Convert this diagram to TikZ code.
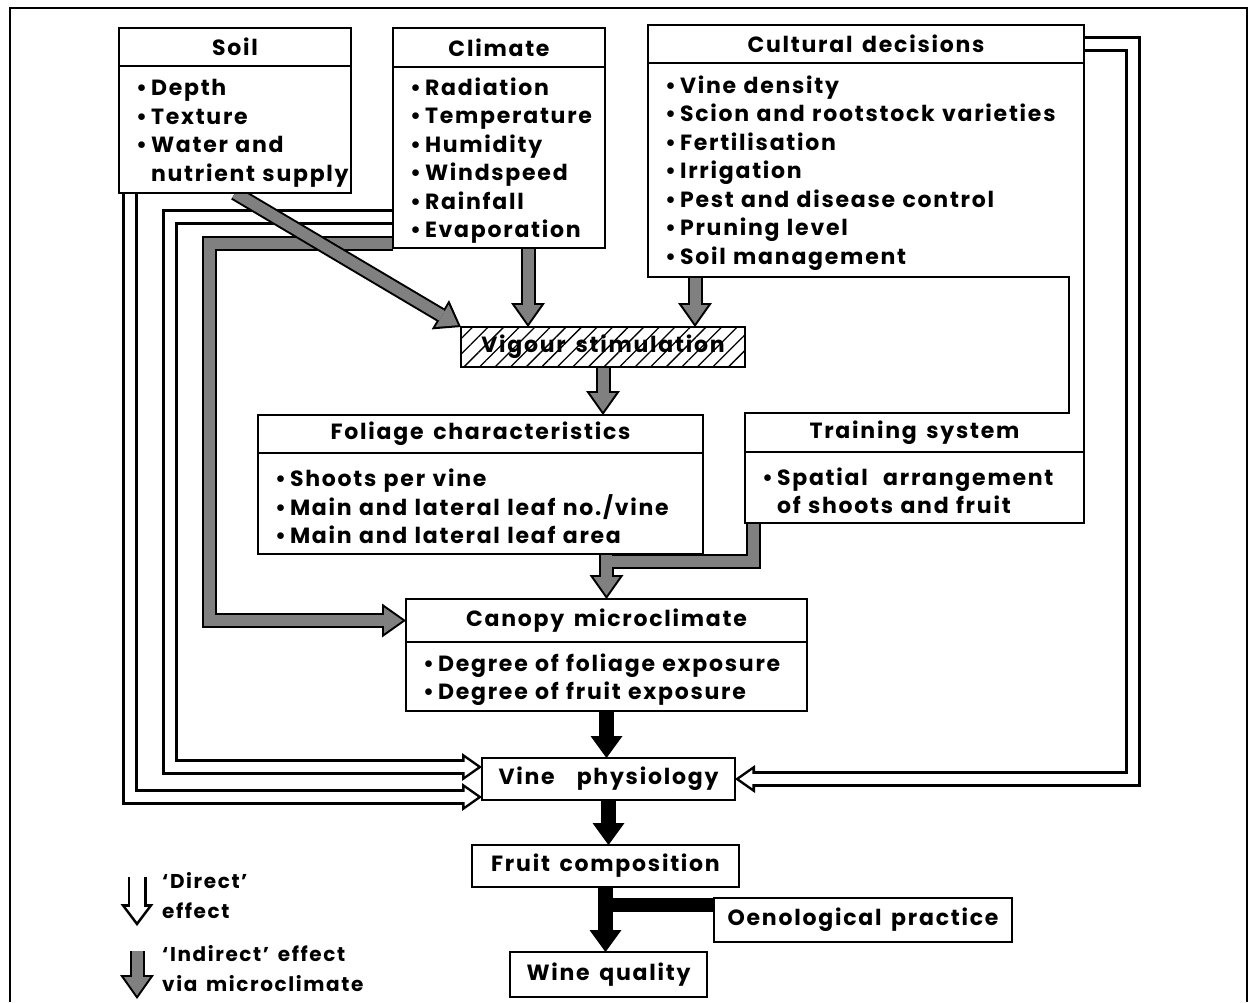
\documentclass[tikz,border=0pt]{standalone}
\usepackage{fontspec}
\setmainfont{Poppins}[LetterSpace=8,WordSpace=1.5]
\usetikzlibrary{arrows.meta,backgrounds,patterns.meta}

\newcommand{\boxfont}{\fontsize{22}{28.5}\selectfont\bfseries}
\newcommand{\keyfont}{\fontsize{20}{30}\selectfont\bfseries}
\newcommand{\dotitem}{\hspace*{13pt}\textbullet\hspace{4pt}}
\newcommand{\dotgap}{\hspace*{13pt}\phantom{\textbullet}\hspace{4pt}}

\begin{document}
\begin{tikzpicture}[x=1pt, y=-1pt,
  hd/.style={draw, line width=2.5pt, fill=white, anchor=north west, inner sep=0pt, outer sep=0pt, font=\boxfont},
  bd/.style={draw, line width=2.5pt, fill=white, anchor=north west, inner xsep=4pt, inner ysep=0pt, outer sep=0pt, align=left, font=\boxfont,
    execute at begin node={\hyphenpenalty=10000\rule{0pt}{24pt}}},
  vg/.style={draw, line width=2.5pt, pattern={Lines[angle=45,distance=11pt,line width=1.3pt]}, anchor=north west, inner sep=0pt, outer sep=0pt, font=\boxfont},
  key/.style={anchor=north west, align=left, inner sep=0pt, font=\keyfont},
  indo/.style={draw=black, line width=15pt, -{Triangle[length=24pt,width=34pt,line width=0pt]}},
  indi/.style={draw=black!50, line width=11pt, shorten >=3.5pt, -{Triangle[length=18.5pt,width=26pt,line width=0pt]}},
  ind/.style={preaction={indo, shorten >=0pt}, indi},
  diro/.style={draw=black, line width=15.5pt, -{Triangle[length=20pt,width=28pt,line width=0pt]}},
  diri/.style={draw=white, line width=10.5pt, shorten >=4.4pt, -{Triangle[length=13pt,width=18.4pt,line width=0pt]}},
  dir/.style={preaction={diro, shorten >=0pt}, diri},
  sol/.style={draw=black, line width=15pt, -{Triangle[length=22pt,width=32pt,line width=0pt]}}
]
\useasboundingbox (0,0) rectangle (1250,1002);
\draw[line width=1.5pt] (10,1002) -- (10,8) -- (1247,8) -- (1247,1002);

% factors
\node[hd, minimum width=232pt, minimum height=38pt] (soilh) at (119,28) {Soil};
\node[bd, text width=224pt, minimum height=127pt] (soilb) at (soilh.south west)
  {\dotitem Depth\\ \dotitem Texture\\ \dotitem Water and\\ \dotgap nutrient supply};
\node[hd, minimum width=212pt, minimum height=39pt] (climh) at (393,28) {Climate};
\node[bd, text width=204pt, minimum height=181pt] (climb) at (climh.south west)
  {\dotitem Radiation\\ \dotitem Temperature\\ \dotitem Humidity\\ \dotitem Windspeed\\ \dotitem Rainfall\\ \dotitem Evaporation};
\node[hd, draw=none, minimum width=436pt, minimum height=38pt] (culth) at (648,25) {Cultural decisions};
\node[bd, draw=none, text width=428pt, minimum height=214pt] (cultb) at (culth.south west)
  {\dotitem Vine density\\ \dotitem Scion and rootstock varieties\\ \dotitem Fertilisation\\ \dotitem Irrigation\\ \dotitem Pest and disease control\\ \dotitem Pruning level\\ \dotitem Soil management};

% canopy
\node[vg, minimum width=284pt, minimum height=40pt] (vig) at (461,327) {Vigour stimulation};
\node[hd, minimum width=445pt, minimum height=38pt] (folh) at (258,415) {Foliage characteristics};
\node[bd, text width=437pt, minimum height=101pt] (folb) at (folh.south west)
  {\dotitem Shoots per vine\\ \dotitem Main and lateral leaf no./vine\\ \dotitem Main and lateral leaf area};
\node[hd, draw=none, minimum width=339pt, minimum height=39pt] (trainh) at (745,413) {Training system};
\node[bd, draw=none, text width=331pt, minimum height=71pt] (trainb) at (trainh.south west)
  {\dotitem Spatial\hspace{8pt} arrangement\\ \dotgap of shoots and fruit};
\node[hd, minimum width=401pt, minimum height=43pt] (canh) at (406,599) {Canopy microclimate};
\node[bd, text width=393pt, minimum height=69pt] (canb) at (canh.south west)
  {\dotitem Degree of foliage exposure\\ \dotitem Degree of fruit exposure};

% outcome
\node[hd, minimum width=253pt, minimum height=42pt] (vine) at (482,758) {Vine\quad physiology};
\node[hd, minimum width=267pt, minimum height=42pt] (fruit) at (472,845) {Fruit composition};
\node[hd, minimum width=298pt, minimum height=44pt] (oeno) at (714,898) {Oenological practice};
\node[hd, minimum width=197pt, minimum height=45pt] (wine) at (510,952) {Wine quality};

% cultural decisions and training system share one outline
\coordinate (tc) at (1069,0);
\draw[line width=2.5pt] (culth.north west) -- (culth.north east) -- (trainb.south east)
  -- (trainb.south west) -- (trainh.north west) -- (tc |- trainh.north)
  -- (tc |- cultb.south) -- (cultb.south west) -- cycle;
\draw[line width=2.5pt] (culth.south west) -- (culth.south east);
\draw[line width=2.5pt] (trainh.south west) -- (trainh.south east);

% key
\node[key] (dkey) at (162,872) {`Direct'\\effect};
\node[key] (ikey) at (162,945) {`Indirect' effect\\via microclimate};
\coordinate (dk1) at (137,877);
\coordinate (dk2) at (137,926);
\coordinate (ik1) at (137,951);
\coordinate (ik2) at (137,999);

% lanes
\coordinate (sl) at (130,0);
\coordinate (cl) at (170,0);
\coordinate (il) at (209,0);
\coordinate (rl) at (1133,0);
\coordinate (ca) at (528,0);
\coordinate (ka) at (695,0);
\coordinate (ta) at (753,0);
\coordinate (sd) at (0,797);
\coordinate (cd) at (0,767);
\coordinate (ch) at (0,217);
\coordinate (ty) at (0,561);
\coordinate (lt) at ([yshift=5pt]climb.south west);

\begin{scope}[on background layer]
  % direct effects
  \draw[dir] (soilb.south -| sl) |- (vine.west |- sd);
  \draw[dir] (climb.west |- ch) -| (cl |- cd) -- (vine.west |- cd);
  \draw[dir] (culth.east) -| (rl |- vine.east) -- (vine.east);
  \draw[dir, diro/.append style={line width=19pt, -{Triangle[length=22pt,width=33pt,line width=0pt]}},
    line width=14pt, -{Triangle[length=14.5pt,width=22pt,line width=0pt]}] (dk1) -- (dk2);
  % indirect effects
  \draw[ind] (lt) -| (il |- canh.west) -- (canh.west);
  \draw[ind] (climb.south -| ca) -- (vig.north -| ca);
  \draw[ind] (cultb.south -| ka) -- (vig.north -| ka);
  \draw[ind] (vig.south) -- (vig.south |- folh.north);
  \draw[indo] (folb.south -| canh.north) -- (canh.north);
  \draw[indo, -] (trainb.south -| ta) |- (canh.north |- ty);
  \draw[indi] (folb.south -| canh.north) -- (canh.north);
  \draw[indi, -, shorten >=0pt] (trainb.south -| ta) |- (canh.north |- ty);
  \draw[ind] (soilb.south) -- (vig.north west);
  \draw[ind] (ik1) -- (ik2);
  % to the wine
  \draw[sol] (canb.south) -- (canb.south |- vine.north);
  \draw[sol] (vine.south) -- (vine.south |- fruit.north);
  \draw[sol] (fruit.south) -- (fruit.south |- wine.north);
  \coordinate (ob) at ([yshift=-7pt]oeno.north west);
  \draw[line width=14pt] (ob) -- (ob -| fruit.south);
\end{scope}
\end{tikzpicture}
\end{document}
